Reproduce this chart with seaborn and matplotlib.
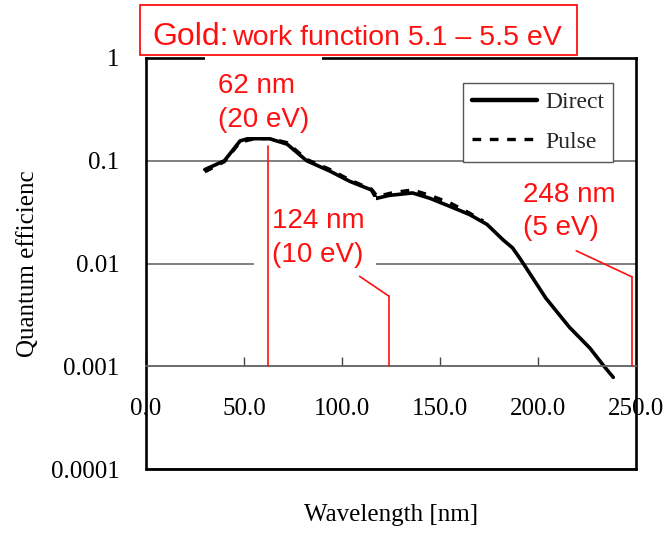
import matplotlib
matplotlib.use("Agg")
import matplotlib.pyplot as plt
from matplotlib.patches import Rectangle
from matplotlib.ticker import NullLocator
import seaborn as sns
import pandas as pd

# Quantum efficiency of gold versus wavelength
direct_nm = [30, 40, 48, 52, 63, 72, 82, 94, 104, 115, 117.5, 124, 136, 145, 155, 165, 174,
             182, 187, 190.5, 192.5, 204, 216, 226.5, 233.7, 238.4]
direct_qe = [0.082, 0.100, 0.156, 0.164, 0.164, 0.145, 0.100, 0.079, 0.063, 0.052, 0.043, 0.046,
             0.0486, 0.043, 0.036, 0.030, 0.024, 0.0171, 0.0142, 0.0114, 0.0100, 0.0046, 0.0024,
             0.0015, 0.0010, 0.00078]
pulse_nm = [30, 40, 48, 55, 63, 72, 82, 94, 104, 115, 118, 126, 136, 145, 155, 165, 172]
pulse_qe = [0.078, 0.098, 0.152, 0.163, 0.165, 0.150, 0.103, 0.082, 0.065, 0.053, 0.045, 0.049,
            0.052, 0.046, 0.039, 0.031, 0.026]

x_ticks = [0, 50, 100, 150, 200, 250]
x_tick_labels = ["0.0", "50.0", "100.0", "150.0", "200.0", "250.0"]
y_ticks = [1e-4, 1e-3, 1e-2, 1e-1, 1]
y_tick_labels = ["0.0001", "0.001", "0.01", "0.1", "1"]

# Photon energy markers (wavelength, energy) and leader lines
marker_nm = [62, 124, 248]
marker_ev = [20, 10, 5]
marker_top = [0.14, 0.0048, 0.0074]
leader_start = [None, (109, 0.0075), (219.5, 0.0133)]

RED = "#ff1010"
SERIF = ["Liberation Serif", "DejaVu Serif"]
SANS = ["Liberation Sans", "DejaVu Sans"]

sns.set_theme(style="white")
plt.rcParams["font.family"] = SERIF

W, H = 664, 533
fig = plt.figure(figsize=(W / 100, H / 100), dpi=100)
fig.patch.set_facecolor("white")


def fx(px):
    return px / W


def fy(py):
    return 1 - py / H


ax = fig.add_axes([fx(146), fy(469), 490 / W, 411 / H])
ax.set_facecolor("white")

df_direct = pd.DataFrame({"Wavelength": direct_nm, "QE": direct_qe})
df_pulse = pd.DataFrame({"Wavelength": pulse_nm, "QE": pulse_qe})
sns.lineplot(data=df_direct, x="Wavelength", y="QE", ax=ax, color="black", lw=2.6,
             label="Direct", zorder=2)
sns.lineplot(data=df_pulse, x="Wavelength", y="QE", ax=ax, color="black", lw=2.4,
             linestyle=(0, (2.6, 2.6)), label="Pulse", zorder=2.1)

ax.set_yscale("log")
ax.set_xlim(0, 250)
ax.set_ylim(1e-4, 1)
ax.set_xticks(x_ticks)
ax.set_xticklabels(x_tick_labels)
ax.set_yticks(y_ticks)
ax.set_yticklabels(y_tick_labels)
ax.yaxis.set_minor_locator(NullLocator())
ax.xaxis.set_minor_locator(NullLocator())

ax.tick_params(axis="x", direction="in", length=6.5, width=1.0, color="#444444",
               pad=23, labelsize=18, labelcolor="black", bottom=True)
ax.tick_params(axis="y", length=0, pad=19, labelsize=18, labelcolor="black", left=True)

ax.yaxis.grid(True, color="#6a6a6a", lw=1.2)
ax.xaxis.grid(False)
ax.set_axisbelow(True)

# x axis crosses at 0.001, plot frame stays around the full range
ax.spines["bottom"].set_position(("data", 1e-3))
ax.spines["bottom"].set_color("#6a6a6a")
ax.spines["bottom"].set_linewidth(1.2)
for side in ["left", "top", "right"]:
    ax.spines[side].set_color("black")
    ax.spines[side].set_linewidth(1.9)
ax.axhline(1e-4, color="black", lw=2.0, clip_on=False, zorder=2.6)

ax.set_xlabel("Wavelength [nm]", fontsize=18, color="black")
ax.xaxis.set_label_coords(0.5, -0.085)
ax.set_ylabel("Quantum efficienc", fontsize=18, color="black")
ax.yaxis.set_label_coords(-0.218, 0.5)

leg = ax.legend(loc="upper left", bbox_to_anchor=(fx(463), fy(83)),
                bbox_transform=fig.transFigure, frameon=True, fancybox=False,
                framealpha=1, edgecolor="#555555", fontsize=17, handlelength=2.75,
                handletextpad=0.34, borderpad=0.38, labelspacing=0.75, borderaxespad=0)
leg.get_frame().set_linewidth(1.0)
leg.set_zorder(6)
leg_lines = leg.get_lines()
leg_lines[0].set_linewidth(3.2)

# White backing boxes behind the energy labels
for (x0, y0, x1, y1) in [(205, 56, 322, 137), (254, 197, 376, 272)]:
    ax.add_patch(Rectangle((fx(x0), fy(y1)), (x1 - x0) / W, (y1 - y0) / H,
                           transform=fig.transFigure, facecolor="white",
                           edgecolor="none", clip_on=False, zorder=3))

# Red marker lines
for nm, top, start in zip(marker_nm, marker_top, leader_start):
    ax.plot([nm, nm], [top, 1e-3], color=RED, lw=1.2, zorder=3.5, clip_on=False)
    if start is not None:
        ax.plot([start[0], nm], [start[1], top], color=RED, lw=1.2, zorder=3.5,
                clip_on=False)

# Energy labels
label_pos = [(218, 93.3), (271.7, 228.3), (523, 201.6)]
for (lx, base), nm, ev in zip(label_pos, marker_nm, marker_ev):
    fig.text(fx(lx), fy(base), f"{nm} nm", color=RED, fontsize=20, family=SANS,
             va="baseline", ha="left", zorder=7)
    fig.text(fx(lx), fy(base + 33.4), f"({ev} eV)", color=RED, fontsize=20, family=SANS,
             va="baseline", ha="left", zorder=7)

# Title box
fig.patches.append(Rectangle((fx(140), fy(55)), (577 - 140) / W, 50 / H,
                             transform=fig.transFigure, facecolor="white",
                             edgecolor=RED, lw=1.3, zorder=5))
fig.text(fx(152), fy(45), "Gold:", color=RED, fontsize=23, family=SANS,
         va="baseline", ha="left", zorder=6)
fig.text(fx(232), fy(45), "work function 5.1 \u2013 5.5 eV", color=RED, fontsize=20.5,
         family=SANS, va="baseline", ha="left", zorder=6)

fig.savefig("out.png", dpi=100, facecolor="white")
